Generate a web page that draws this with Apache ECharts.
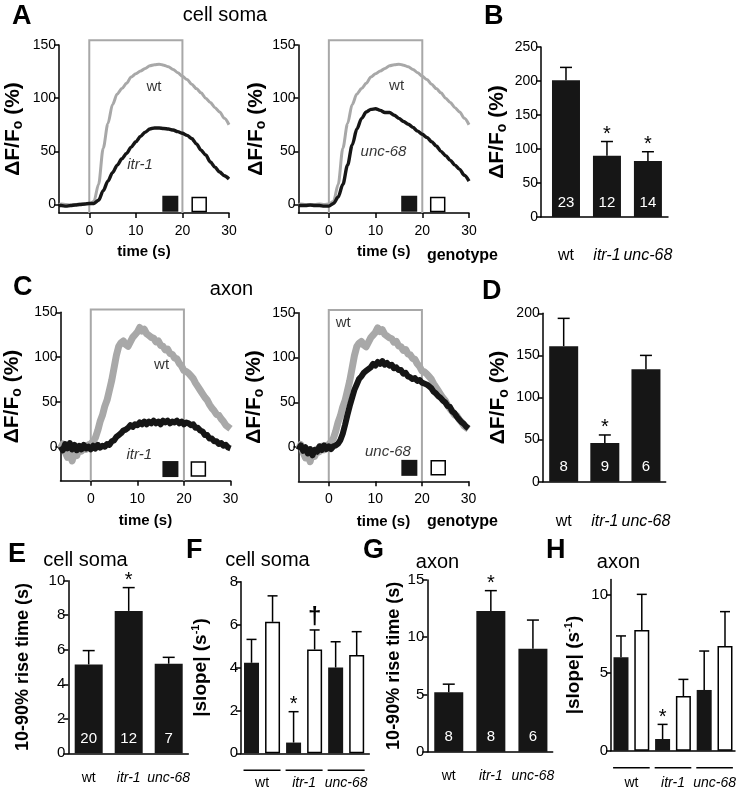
<!DOCTYPE html>
<html><head><meta charset="utf-8">
<script src="https://cdn.jsdelivr.net/npm/echarts@6/dist/echarts.min.js"></script>
<style>html,body{margin:0;padding:0;background:#fff}#c{width:739px;height:792px}</style>
</head><body><div id="c"></div>
<script>
// ---------------- DATA ----------------
const tA = [-6.5,-6,-5,-4,-3,-2,-1,0,1,2,3,4,5,6,7,8,9,10,11,12,13,14,15,16,17,18,19,20,21,22,23,24,25,26,27,28,29,30];
const somaWt = [0,0.5,0,-0.5,0,0.5,0,0.5,3,19,53,76,94,104,109,114,120,123,125.5,128,130.5,131.5,132,131,129.5,127,124,120.5,117.5,113,109,105,100,96,91,87,81,75];
const somaItr1 = [-1,-1,-1.5,-1,-0.5,0,0.5,1,1,4,13,22,30,37,43,48,54,59,64,68,71,72,72,71.5,71,70,68.5,67,65,62,57,51,46.5,40,35,30.5,27,24];
const somaUnc68 = [-1,-1,-1,-0.5,-1,-1,-1.5,-1.5,1,7,19,37,56,71,81,87,89.5,90,88.5,86.5,86.5,84,81,78,75.5,72.5,69,66,63,59,55,50,46,41.5,37,33,27.5,22];

const tC = [-6.5,-6,-5.5,-5,-4.5,-4,-3.5,-3,-2.5,-2,-1.5,-1,-0.5,0,0.5,1,1.5,2,2.5,3,3.5,4,4.5,5,5.5,6,6.5,7,7.5,8,8.5,9,9.5,10,10.5,11,11.5,12,12.5,13,13.5,14,14.5,15,15.5,16,16.5,17,17.5,18,18.5,19,19.5,20,20.5,21,21.5,22,22.5,23,23.5,24,24.5,25,25.5,26,26.5,27,27.5,28,28.5,29,29.5,30];
const axonWt = [-2,3,-6,-12,-8,-16,-6,-10,-2,-5,1,-3,2,3,6,10,18,28,35,45,52,63,74,88,102,112,116,118,114,112,117,122,125,128,133,129,131,126,124,122,121,117,118,113,112,108,109,104,103,99,98,93,90,85,84,82,79,76,71,67,63,59,55,52,47,43,40,36,35,31,28,24,22,20];
const axonItr1 = [0,-4,3,-2,4,-3,2,-4,1,-3,2,-2,0,-3,1,-2,2,-1,1,0,3,2,6,7,11,13,15,18,19,21,24,22,25,24,27,25,28,25,28,26,29,26,28,25,29,27,29,26,28,27,29,26,28,25,27,26,24,25,21,21,18,17,13,13,9,9,6,6,3,4,1,2,-1,-2];
const axonUnc68 = [-3,2,-4,0,-7,-2,-9,-3,-5,1,-3,2,-2,1,-2,1,2,4,8,15,25,36,46,55,64,70,76,79,83,85,87,89,93,91,95,93,96,92,94,91,92,88,89,86,86,82,83,79,78,76,77,74,75,72,71,70,68,66,62,60,57,55,52,50,46,45,40,38,34,31,28,26,23,21];
const stimWindow = [0, 20];

const genotypes = ['wt','itr-1','unc-68'];
const genoItalic = [false, true, true];

const bMean = [201, 90, 82.5], bTop = [220, 111, 96], bN = ['23','12','14'], bSig = ['', '*', '*'];
const dMean = [161, 46, 133.5], dTop = [194, 55.5, 150], dN = ['8','9','6'], dSig = ['', '*', ''];
const eMean = [5.15, 8.25, 5.19], eTop = [5.95, 9.6, 5.56], eN = ['20','12','7'], eSig = ['', '*', ''];
const gMean = [5.2, 12.3, 9.0], gTop = [5.9, 14.07, 11.5], gN = ['8','8','6'], gSig = ['', '*', ''];
const fRise = [4.22, 0.5, 4.0], fRiseTop = [5.31, 1.94, 5.2], fRiseSig = ['', '*', ''];
const fDecay = [6.13, 4.84, 4.58], fDecayTop = [7.34, 5.75, 5.67], fDecaySig = ['', '\u2020', ''];
const hRise = [6.0, 0.75, 3.9], hRiseTop = [7.37, 1.69, 6.4], hRiseSig = ['', '*', ''];
const hDecay = [7.75, 3.51, 6.72], hDecayTop = [10.04, 4.58, 8.93], hDecaySig = ['', '', ''];

const timeTicks = [0, 10, 20, 30];
const dffTicks = [0, 50, 100, 150];
const bTicks = [0, 50, 100, 150, 200, 250];
const dTicks = [0, 50, 100, 150, 200];
const eTicks = [0, 2, 4, 6, 8, 10];
const fTicks = [0, 2, 4, 6, 8];
const gTicks = [0, 5, 10, 15];
const hTicks = [0, 5, 10];

// ---------------- STYLE / LAYOUT ----------------
const FONT = '"Liberation Sans", Arial, Helvetica, sans-serif';
const BLACK = '#161616', GRAY = '#a8a8a8';
const pairOffset = 0.25;

const grids = [
  {left:59, top:45, width:170, height:168},          // 0 A-left
  {left:298.5, top:45, width:170.5, height:168},     // 1 A-right
  {left:541, top:47, width:127, height:170},         // 2 B
  {left:60.5, top:312.3, width:170, height:168.4},   // 3 C-left
  {left:298.5, top:312.7, width:170, height:168.6},  // 4 C-right
  {left:542.7, top:313.3, width:123, height:168.4},  // 5 D
  {left:68.3, top:580.7, width:120, height:172.6},   // 6 E
  {left:241, top:581.7, width:128.3, height:171.6},  // 7 F
  {left:427.3, top:580, width:125.4, height:171.7},  // 8 G
  {left:611, top:579.4, width:125, height:171.3}     // 9 H
];

const axLine = {show:true, onZero:false, lineStyle:{color:'#000', width:1.5}};
const tickStyle = {color:'#000', width:1.5};

const dffName = '{b|\u0394F/F}{s|o}{b| (%)}';
const slopeName = '{b||slope| (s}{p|-1}{b|)}';
function nameStyle(size){
  return {color:'#000', fontFamily:FONT, fontSize:size, fontWeight:'bold', rich:{
    b:{fontSize:size, fontWeight:'bold', fontFamily:FONT, color:'#000', lineHeight:size+3},
    s:{fontSize:Math.round(size*0.65), fontWeight:'bold', fontFamily:FONT, color:'#000', lineHeight:8, verticalAlign:'bottom'},
    p:{fontSize:Math.round(size*0.6), fontWeight:'bold', fontFamily:FONT, color:'#000', lineHeight:8, verticalAlign:'top'}
  }};
}

function yAx(gi, min, max, ticks, name, gap, size, labSize){
  return {type:'value', gridIndex:gi, min:min, max:max,
    axisLine:axLine, splitLine:{show:false},
    axisTick:{show:true, length:5, customValues:ticks, lineStyle:tickStyle},
    axisLabel:{customValues:ticks, fontSize:labSize, color:'#000', fontFamily:FONT, margin:3},
    name:name, nameLocation:'middle', nameGap:gap, nameTextStyle:nameStyle(size)};
}
function timeX(gi, margin, gap){
  return {type:'value', gridIndex:gi, min:-6.5, max:30,
    axisLine:axLine, splitLine:{show:false},
    axisTick:{show:true, length:5, customValues:timeTicks, lineStyle:tickStyle},
    axisLabel:{customValues:timeTicks, fontSize:14, color:'#000', fontFamily:FONT, margin:margin},
    name:'time (s)', nameLocation:'middle', nameGap:gap,
    nameTextStyle:{fontSize:15, fontWeight:'bold', color:'#000', fontFamily:FONT}};
}
function catX(gi, min, max, margin, size){
  return {type:'value', gridIndex:gi, min:min, max:max,
    axisLine:axLine, splitLine:{show:false}, axisTick:{show:false},
    axisLabel:{customValues:[0,1,2], margin:margin, color:'#000', fontFamily:FONT,
      formatter:(v)=>{ const i=Math.round(v); return (genoItalic[i]?'{i|':'{n|')+genotypes[i]+'}'; },
      rich:{n:{fontSize:size, fontFamily:FONT, color:'#000'}, i:{fontSize:size, fontFamily:FONT, color:'#000', fontStyle:'italic'}}}};
}

const xAxes = [
  timeX(0, 11, 31), timeX(1, 11, 31),
  catX(2, -0.61, 2.49, 31, 16),
  timeX(3, 11, 33), timeX(4, 11, 33),
  catX(5, -0.51, 2.48, 32, 16),
  catX(6, -0.51, 2.49, 18, 14),
  catX(7, -0.5, 2.55, 23, 14),
  catX(8, -0.51, 2.47, 17, 14),
  catX(9, -0.49, 2.49, 25, 14)
];
const yAxes = [
  yAx(0, -8, 150, dffTicks, dffName, 34, 21, 14),
  yAx(1, -8, 150, dffTicks, dffName, 30, 21, 14),
  yAx(2, 0, 250, bTicks, dffName, 32, 21, 14),
  yAx(3, -38, 150, dffTicks, dffName, 36, 21, 14),
  yAx(4, -38, 150, dffTicks, dffName, 32, 21, 14),
  yAx(5, 0, 200, dTicks, dffName, 32, 21, 14),
  yAx(6, 0, 10, eTicks, '10-90% rise time (s)', 36, 18, 15),
  yAx(7, 0, 8, fTicks, slopeName, 29, 19, 15),
  yAx(8, 0, 15, gTicks, '10-90% rise time (s)', 24, 18, 15),
  yAx(9, 0, 11, hTicks, slopeName, 26, 19, 15)
];

// ---------------- SERIES BUILDERS ----------------
const series = [];
function pairs(ts, vs){ return ts.map((t,i)=>[t, vs[i]]); }
function lineS(gi, ts, vs, color, width, smooth){
  return {type:'line', xAxisIndex:gi, yAxisIndex:gi, data:pairs(ts, vs), showSymbol:false, symbol:'none',
    smooth:smooth, smoothMonotone:'x', silent:true, z:3, lineStyle:{color:color, width:width, join:'round', opacity:1}};
}
function boxS(gi, ymin, top){
  return {type:'custom', xAxisIndex:gi, yAxisIndex:gi, silent:true, z:2, data:[stimWindow],
    renderItem:(params, api)=>{
      const a=api.coord([api.value(0), ymin]), b=api.coord([api.value(0), top]);
      const c=api.coord([api.value(1), top]), d=api.coord([api.value(1), ymin]);
      return {type:'polyline', shape:{points:[a,b,c,d]}, style:{stroke:GRAY, lineWidth:2, fill:null}};
    }};
}
function squaresS(gi, blackPos, whitePos){
  return [
    {type:'scatter', xAxisIndex:gi, yAxisIndex:gi, silent:true, z:4, symbol:'rect', symbolSize:16,
      data:[blackPos], itemStyle:{color:BLACK, opacity:1}},
    {type:'scatter', xAxisIndex:gi, yAxisIndex:gi, silent:true, z:4, symbol:'rect', symbolSize:14,
      data:[whitePos], itemStyle:{color:'#fff', borderColor:'#000', borderWidth:1.5, opacity:1}}
  ];
}
function textS(gi, items){
  return {type:'scatter', xAxisIndex:gi, yAxisIndex:gi, silent:true, z:5, symbolSize:0,
    data:items.map(it=>({value:[it[0], it[1]], name:it[2]})),
    label:{show:true, position:'inside', formatter:(p)=> (p.name==='wt'?'{n|':'{i|')+p.name+'}',
      rich:{n:{fontSize:15, fontFamily:FONT, color:'#000'}, i:{fontSize:15, fontFamily:FONT, color:'#000', fontStyle:'italic'}}}};
}
function barS(gi, xs, vals, colors, width, nLabels){
  return {type:'bar', xAxisIndex:gi, yAxisIndex:gi, silent:true, barWidth:width, z:2,
    data: xs.map((x,i)=>({value:[x, vals[i]], itemStyle: colors[i]==='w'
      ? {color:'#fff', borderColor:'#000', borderWidth:1.5} : {color:BLACK}})),
    label: nLabels ? {show:true, position:'insideBottom', distance:7, color:'#fff', fontSize:15, fontFamily:FONT,
      formatter:(p)=>nLabels[p.dataIndex]} : {show:false}};
}
function errS(gi, xs, means, tops, sigs, cap, sigSize, sigWeight){
  return {type:'custom', xAxisIndex:gi, yAxisIndex:gi, silent:true, z:4,
    data: xs.map((x,i)=>[x, means[i], tops[i]]),
    renderItem:(params, api)=>{
      const x=api.value(0); const p0=api.coord([x, api.value(1)]); const p1=api.coord([x, api.value(2)]);
      const ch=[
        {type:'line', shape:{x1:p0[0], y1:p0[1], x2:p1[0], y2:p1[1]}, style:{stroke:'#000', lineWidth:1.5}},
        {type:'line', shape:{x1:p1[0]-cap/2, y1:p1[1], x2:p1[0]+cap/2, y2:p1[1]}, style:{stroke:'#000', lineWidth:1.5}}
      ];
      const s=sigs[params.dataIndex];
      if (s) ch.push({type:'text', style:{text:s, x:p1[0], y:p1[1]+(s==='*'?3:-1), textAlign:'center', textVerticalAlign:'bottom',
        align:'center', verticalAlign:'bottom', fontSize:sigSize, fontWeight:sigWeight, fontFamily:FONT, fill:'#000'}});
      return {type:'group', children:ch};
    }};
}
function underlineS(gi, y0){
  return {type:'custom', xAxisIndex:gi, yAxisIndex:gi, silent:true, z:4,
    data: genotypes.map((g,i)=>[i]),
    renderItem:(params, api)=>{
      const g=api.value(0); const a=api.coord([g-0.44, y0]); const b=api.coord([g+0.44, y0]);
      return {type:'line', shape:{x1:a[0], y1:a[1]+17, x2:b[0], y2:b[1]+17}, style:{stroke:'#000', lineWidth:1.5}};
    }};
}

// ---------------- PANELS ----------------
const idx = [0,1,2];
// A-left
series.push(boxS(0, -8, 154.5));
series.push(lineS(0, tA, somaWt, GRAY, 3, 0.3));
series.push(lineS(0, tA, somaItr1, BLACK, 3.4, 0.3));
series.push(...squaresS(0, [17.4, 0.7], [23.6, 0]));
series.push(textS(0, [[13.9, 111, 'wt'], [10.9, 37, 'itr-1']]));
// A-right
series.push(boxS(1, -8, 154.5));
series.push(lineS(1, tA, somaWt, GRAY, 3, 0.3));
series.push(lineS(1, tA, somaUnc68, BLACK, 3.4, 0.3));
series.push(...squaresS(1, [17.2, 0.7], [23.3, 0]));
series.push(textS(1, [[14.5, 112, 'wt'], [11.7, 50, 'unc-68']]));
// B
series.push(barS(2, idx, bMean, ['b','b','b'], 28, bN));
series.push(errS(2, idx, bMean, bTop, bSig, 12, 20, 'normal'));
// C-left
series.push(boxS(3, -38, 153));
series.push(lineS(3, tC, axonWt, GRAY, 7, false));
series.push(lineS(3, tC, axonItr1, BLACK, 6, false));
series.push(...squaresS(3, [17.1, -25], [23.1, -25]));
series.push(textS(3, [[15.2, 91, 'wt'], [10.4, -9, 'itr-1']]));
// C-right
series.push(boxS(4, -38, 153));
series.push(lineS(4, tC, axonWt, GRAY, 7, false));
series.push(lineS(4, tC, axonUnc68, BLACK, 6, false));
series.push(...squaresS(4, [17.3, -23], [23.5, -23]));
series.push(textS(4, [[3.1, 139, 'wt'], [12.7, -5, 'unc-68']]));
// D
series.push(barS(5, idx, dMean, ['b','b','b'], 29, dN));
series.push(errS(5, idx, dMean, dTop, dSig, 12, 20, 'normal'));
// E
series.push(barS(6, idx, eMean, ['b','b','b'], 28, eN));
series.push(errS(6, idx, eMean, eTop, eSig, 12, 20, 'normal'));
// F
const fx = [], fv = [], fc = [];
idx.forEach(i=>{ fx.push(i-pairOffset, i+pairOffset); fv.push(fRise[i], fDecay[i]); fc.push('b','w'); });
series.push(barS(7, fx, fv, fc, 15, null));
series.push(errS(7, idx.map(i=>i-pairOffset), fRise, fRiseTop, fRiseSig, 10, 20, 'normal'));
series.push(errS(7, idx.map(i=>i+pairOffset), fDecay, fDecayTop, fDecaySig, 10, 24, 'bold'));
series.push(underlineS(7, 0));
// G
series.push(barS(8, idx, gMean, ['b','b','b'], 29, gN));
series.push(errS(8, idx, gMean, gTop, gSig, 12, 20, 'normal'));
// H
const hx = [], hv = [], hc = [];
idx.forEach(i=>{ hx.push(i-pairOffset, i+pairOffset); hv.push(hRise[i], hDecay[i]); hc.push('b','w'); });
series.push(barS(9, hx, hv, hc, 15, null));
series.push(errS(9, idx.map(i=>i-pairOffset), hRise, hRiseTop, hRiseSig, 10, 20, 'normal'));
series.push(errS(9, idx.map(i=>i+pairOffset), hDecay, hDecayTop, hDecaySig, 10, 20, 'normal'));
series.push(underlineS(9, 0));

// ---------------- TEXT ----------------
function gt(x, y, text, size, weight, align, valign){
  return {type:'text', x:x, y:y, silent:true, style:{text:text, fontSize:size, fontWeight:weight||'normal', fontFamily:FONT, fill:'#000',
    textAlign:align||'left', textVerticalAlign:valign||'middle', align:align||'left', verticalAlign:valign||'middle'}};
}
const graphic = [
  gt(12, 17, 'A', 27, 'bold'), gt(225, 15, 'cell soma', 20, 'normal', 'center'),
  gt(484, 17, 'B', 27, 'bold'),
  gt(13, 288, 'C', 27, 'bold'), gt(231.5, 289.5, 'axon', 20, 'normal', 'center'),
  gt(482, 292, 'D', 27, 'bold'),
  gt(498, 256, 'genotype', 16, 'bold', 'right'),
  gt(498, 522, 'genotype', 16, 'bold', 'right'),
  gt(8, 555, 'E', 27, 'bold'), gt(85.5, 560, 'cell soma', 20, 'normal', 'center'),
  gt(186, 551, 'F', 27, 'bold'), gt(267.5, 560, 'cell soma', 20, 'normal', 'center'),
  gt(363, 551, 'G', 27, 'bold'), gt(437.5, 562, 'axon', 20, 'normal', 'center'),
  gt(546, 551, 'H', 27, 'bold'), gt(618.5, 562, 'axon', 20, 'normal', 'center')
];

const chart = echarts.init(document.getElementById('c'), null, {renderer:'canvas'});
chart.setOption({
  animation:false, backgroundColor:'#fff',
  textStyle:{fontFamily:FONT},
  grid:grids, xAxis:xAxes, yAxis:yAxes, series:series, graphic:graphic
});
</script></body></html>
